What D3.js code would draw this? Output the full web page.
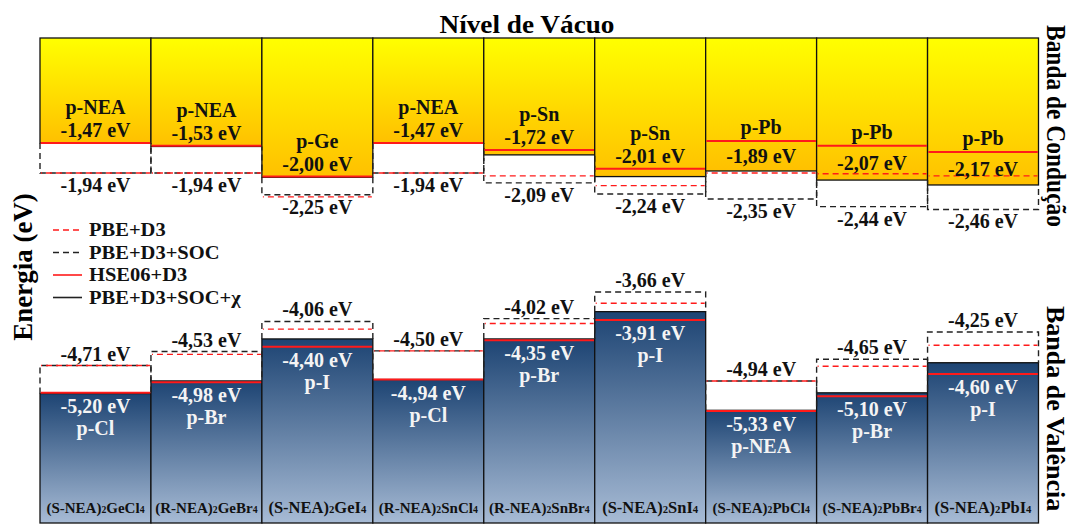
<!DOCTYPE html>
<html>
<head>
<meta charset="utf-8">
<script src="https://cdn.jsdelivr.net/npm/d3@7"></script>
<style>
  body { margin: 0; background: #fff; }
  svg { display: block; }
  text { font-family: "Liberation Serif", "Times New Roman", serif; font-weight: bold; }
</style>
</head>
<body>
<div id="chart"></div>
<script>
// Compounds (subscripts written as _n)
const compounds = ['(S-NEA)_2GeCl_4', '(R-NEA)_2GeBr_4', '(S-NEA)_2GeI_4', '(R-NEA)_2SnCl_4', '(R-NEA)_2SnBr_4',
                   '(S-NEA)_2SnI_4', '(S-NEA)_2PbCl_4', '(S-NEA)_2PbBr_4', '(S-NEA)_2PbI_4'];

// Orbital character of each band edge
const cbCharacter = ['p-NEA', 'p-NEA', 'p-Ge', 'p-NEA', 'p-Sn', 'p-Sn', 'p-Pb', 'p-Pb', 'p-Pb'];
const vbCharacter = ['p-Cl', 'p-Br', 'p-I', 'p-Cl', 'p-Br', 'p-I', 'p-NEA', 'p-Br', 'p-I'];

// Conduction band levels as drawn (eV, vacuum = 0)
const cbHSE = [-1.50, -1.54, -1.98, -1.50, -1.60, -1.87, -1.47, -1.54, -1.63];
const cbPBE = [-1.93, -1.93, -2.27, -1.93, -1.97, -2.11, -1.93, -1.94, -1.97];
const cbSOC = [-1.93, -1.93, -2.24, -1.93, -2.07, -2.23, -2.30, -2.41, -2.45];
const cbChi = [-1.50, -1.55, -1.99, -1.50, -1.67, -1.98, -1.90, -2.03, -2.10];

// Valence band levels as drawn (eV)
const vbHSE = [-5.07, -4.92, -4.41, -4.88, -4.32, -4.03, -5.33, -5.12, -4.80];
const vbPBE = [-4.68, -4.52, -4.16, -4.47, -4.08, -3.79, -4.90, -4.69, -4.39];
const vbSOC = [-4.68, -4.48, -4.05, -4.47, -4.01, -3.63, -4.90, -4.59, -4.20];
const vbChi = [-5.08, -4.90, -4.30, -4.88, -4.30, -3.91, -5.32, -5.07, -4.64];

// Printed energy labels
const cbHSELabels = ['-1,47', '-1,53', '-2,00', '-1,47', '-1,72', '-2,01', '-1,89', '-2,07', '-2,17'];
const cbSOCLabels = ['-1,94', '-1,94', '-2,25', '-1,94', '-2,09', '-2,24', '-2,35', '-2,44', '-2,46'];
const vbSOCLabels = ['-4,71', '-4,53', '-4,06', '-4,50', '-4,02', '-3,66', '-4,94', '-4,65', '-4,25'];
const vbHSELabels = ['-5,20', '-4,98', '-4,40', '-4.,94', '-4,35', '-3,91', '-5,33', '-5,10', '-4,60'];

const legendItems = ['PBE+D3', 'PBE+D3+SOC', 'HSE06+D3', 'PBE+D3+SOC+χ'];

const width = 1074;
const height = 525;
const bottomEnergy = -6.93;

const svg = d3.select('#chart')
    .append('svg')
    .attr('width', width)
    .attr('height', height);

const defs = svg.append('defs');
const yellow = defs.append('linearGradient').attr('id', 'gradCB')
    .attr('x1', 0).attr('y1', 0).attr('x2', 0).attr('y2', 1);
yellow.append('stop').attr('offset', '0%').attr('stop-color', '#ffff00');
yellow.append('stop').attr('offset', '100%').attr('stop-color', '#ffc000');
const blue = defs.append('linearGradient').attr('id', 'gradVB')
    .attr('x1', 0).attr('y1', 0).attr('x2', 0).attr('y2', 1);
blue.append('stop').attr('offset', '0%').attr('stop-color', '#1d4473');
blue.append('stop').attr('offset', '100%').attr('stop-color', '#a7bbd5');

const x = d3.scaleBand()
    .domain(d3.range(compounds.length))
    .range([40, 1038.5])
    .padding(0);

const y = d3.scaleLinear()
    .domain([0, bottomEnergy])
    .range([38, 523]);

const bw = x.bandwidth();
const RED = '#ff1a1a';
const DARK = '#222';

const cols = d3.range(compounds.length);

// Conduction band boxes
svg.selectAll('.cb')
    .data(cols)
    .enter()
    .append('rect')
    .attr('x', i => x(i))
    .attr('y', y(0))
    .attr('width', bw)
    .attr('height', i => y(cbChi[i]) - y(0))
    .attr('fill', 'url(#gradCB)')
    .attr('stroke', '#111')
    .attr('stroke-width', 1.3);

// Valence band boxes
svg.selectAll('.vb')
    .data(cols)
    .enter()
    .append('rect')
    .attr('x', i => x(i))
    .attr('y', i => y(vbChi[i]))
    .attr('width', bw)
    .attr('height', i => y(bottomEnergy) - y(vbChi[i]))
    .attr('fill', 'url(#gradVB)')
    .attr('stroke', '#111')
    .attr('stroke-width', 1.3);

// PBE+D3+SOC dashed boxes
const dashBox = (i, from, to) =>
    `M${x(i)},${y(from)}V${y(to)}H${x(i) + bw}V${y(from)}`;

svg.selectAll('.cbSoc')
    .data(cols)
    .enter()
    .append('path')
    .attr('d', i => dashBox(i, cbChi[i], cbSOC[i]))
    .attr('fill', 'none')
    .attr('stroke', DARK)
    .attr('stroke-width', 1.4)
    .attr('stroke-dasharray', '6,4');

svg.selectAll('.vbSoc')
    .data(cols)
    .enter()
    .append('path')
    .attr('d', i => dashBox(i, vbChi[i], vbSOC[i]))
    .attr('fill', 'none')
    .attr('stroke', DARK)
    .attr('stroke-width', 1.4)
    .attr('stroke-dasharray', '6,4');

// PBE+D3 red dashed levels
[cbPBE, vbPBE].forEach(series => {
    svg.append('g').selectAll('line')
        .data(cols)
        .enter()
        .append('line')
        .attr('x1', i => x(i) + 1)
        .attr('x2', i => x(i) + bw - 1)
        .attr('y1', i => y(series[i]))
        .attr('y2', i => y(series[i]))
        .attr('stroke', RED)
        .attr('stroke-width', 1.4)
        .attr('stroke-dasharray', '6,4')
        .attr('stroke-dashoffset', 5);
});

// HSE06+D3 red solid levels
[cbHSE, vbHSE].forEach(series => {
    svg.append('g').selectAll('line')
        .data(cols)
        .enter()
        .append('line')
        .attr('x1', i => x(i) + 0.7)
        .attr('x2', i => x(i) + bw - 0.7)
        .attr('y1', i => y(series[i]))
        .attr('y2', i => y(series[i]))
        .attr('stroke', RED)
        .attr('stroke-width', 2);
});

// Labels inside the conduction band
const cbText = svg.append('g').attr('text-anchor', 'middle').style('font-size', '20px').attr('fill', '#111');
cols.forEach(i => {
    const cx = x(i) + bw / 2;
    const hse = y(cbHSE[i]);
    const chi = y(cbChi[i]);
    let valueY, nameY;
    if (chi - hse > 20) {
        valueY = (hse + chi) / 2;
        nameY = hse - 14;
    } else {
        valueY = hse - 13;
        nameY = hse - 36;
    }
    cbText.append('text').attr('x', cx).attr('y', nameY).attr('dy', '0.35em').text(cbCharacter[i]);
    cbText.append('text').attr('x', cx).attr('y', valueY).attr('dy', '0.35em').text(`${cbHSELabels[i]} eV`);
    cbText.append('text').attr('x', cx).attr('y', y(cbSOC[i]) + 12).attr('dy', '0.35em').text(`${cbSOCLabels[i]} eV`);
});

// Labels of the valence band
const vbText = svg.append('g').attr('text-anchor', 'middle').style('font-size', '20px');
cols.forEach(i => {
    const cx = x(i) + bw / 2;
    const hse = y(vbHSE[i]);
    vbText.append('text').attr('x', cx).attr('y', y(vbSOC[i]) - 12).attr('dy', '0.35em')
        .attr('fill', '#111').text(`${vbSOCLabels[i]} eV`);
    vbText.append('text').attr('x', cx).attr('y', hse + 13).attr('dy', '0.35em')
        .attr('fill', '#f4f4f4').text(`${vbHSELabels[i]} eV`);
    vbText.append('text').attr('x', cx).attr('y', hse + 35).attr('dy', '0.35em')
        .attr('fill', '#f4f4f4').text(vbCharacter[i]);
});

// Compound names at the bottom
const names = svg.append('g').attr('text-anchor', 'middle').attr('fill', '#111');
cols.forEach(i => {
    const big = /I_4$/.test(compounds[i]);
    const fs = big ? 16.5 : 15;
    const t = names.append('text')
        .attr('x', x(i) + bw / 2)
        .attr('y', 513)
        .style('font-size', fs + 'px');
    compounds[i].split(/_(\d)/).forEach((part, k) => {
        if (!part) return;
        if (k % 2 === 1) {
            t.append('tspan').style('font-size', (fs * 0.65) + 'px').text(part);
        } else {
            t.append('tspan').text(part);
        }
    });
});

// Title and side labels
svg.append('text')
    .attr('x', 527)
    .attr('y', 33)
    .attr('text-anchor', 'middle')
    .style('font-size', '25px')
    .attr('textLength', 175)
    .attr('lengthAdjust', 'spacingAndGlyphs')
    .text('Nível de Vácuo');

svg.append('text')
    .attr('transform', 'translate(32,267) rotate(-90)')
    .attr('text-anchor', 'middle')
    .style('font-size', '27px')
    .text('Energia (eV)');

svg.append('text')
    .attr('transform', 'translate(1047,126) rotate(90)')
    .attr('text-anchor', 'middle')
    .style('font-size', '27px')
    .attr('textLength', 202)
    .attr('lengthAdjust', 'spacingAndGlyphs')
    .text('Banda de Condução');

svg.append('text')
    .attr('transform', 'translate(1047,306) rotate(90)')
    .attr('text-anchor', 'start')
    .style('font-size', '26px')
    .text('Banda de Valência');

// Legend
const legend = svg.append('g').attr('transform', 'translate(53,230)');
const legendStyle = [
    { color: RED, dash: '6,4' },
    { color: DARK, dash: '6,4' },
    { color: RED, dash: null },
    { color: DARK, dash: null }
];
legendItems.forEach((item, i) => {
    const row = legend.append('g').attr('transform', `translate(0, ${i * 22.5})`);
    row.append('line')
        .attr('x1', 0).attr('x2', 29)
        .attr('y1', 0).attr('y2', 0)
        .attr('stroke', legendStyle[i].color)
        .attr('stroke-width', 1.6)
        .attr('stroke-dasharray', legendStyle[i].dash);
    const t = row.append('text')
        .attr('x', 36)
        .attr('y', 0)
        .attr('dy', '0.35em')
        .style('font-size', '18px')
        .attr('fill', '#111')
        .text(item);
    const len = t.node().getComputedTextLength();
    t.attr('textLength', len * 1.14).attr('lengthAdjust', 'spacingAndGlyphs');
});
</script>
</body>
</html>
